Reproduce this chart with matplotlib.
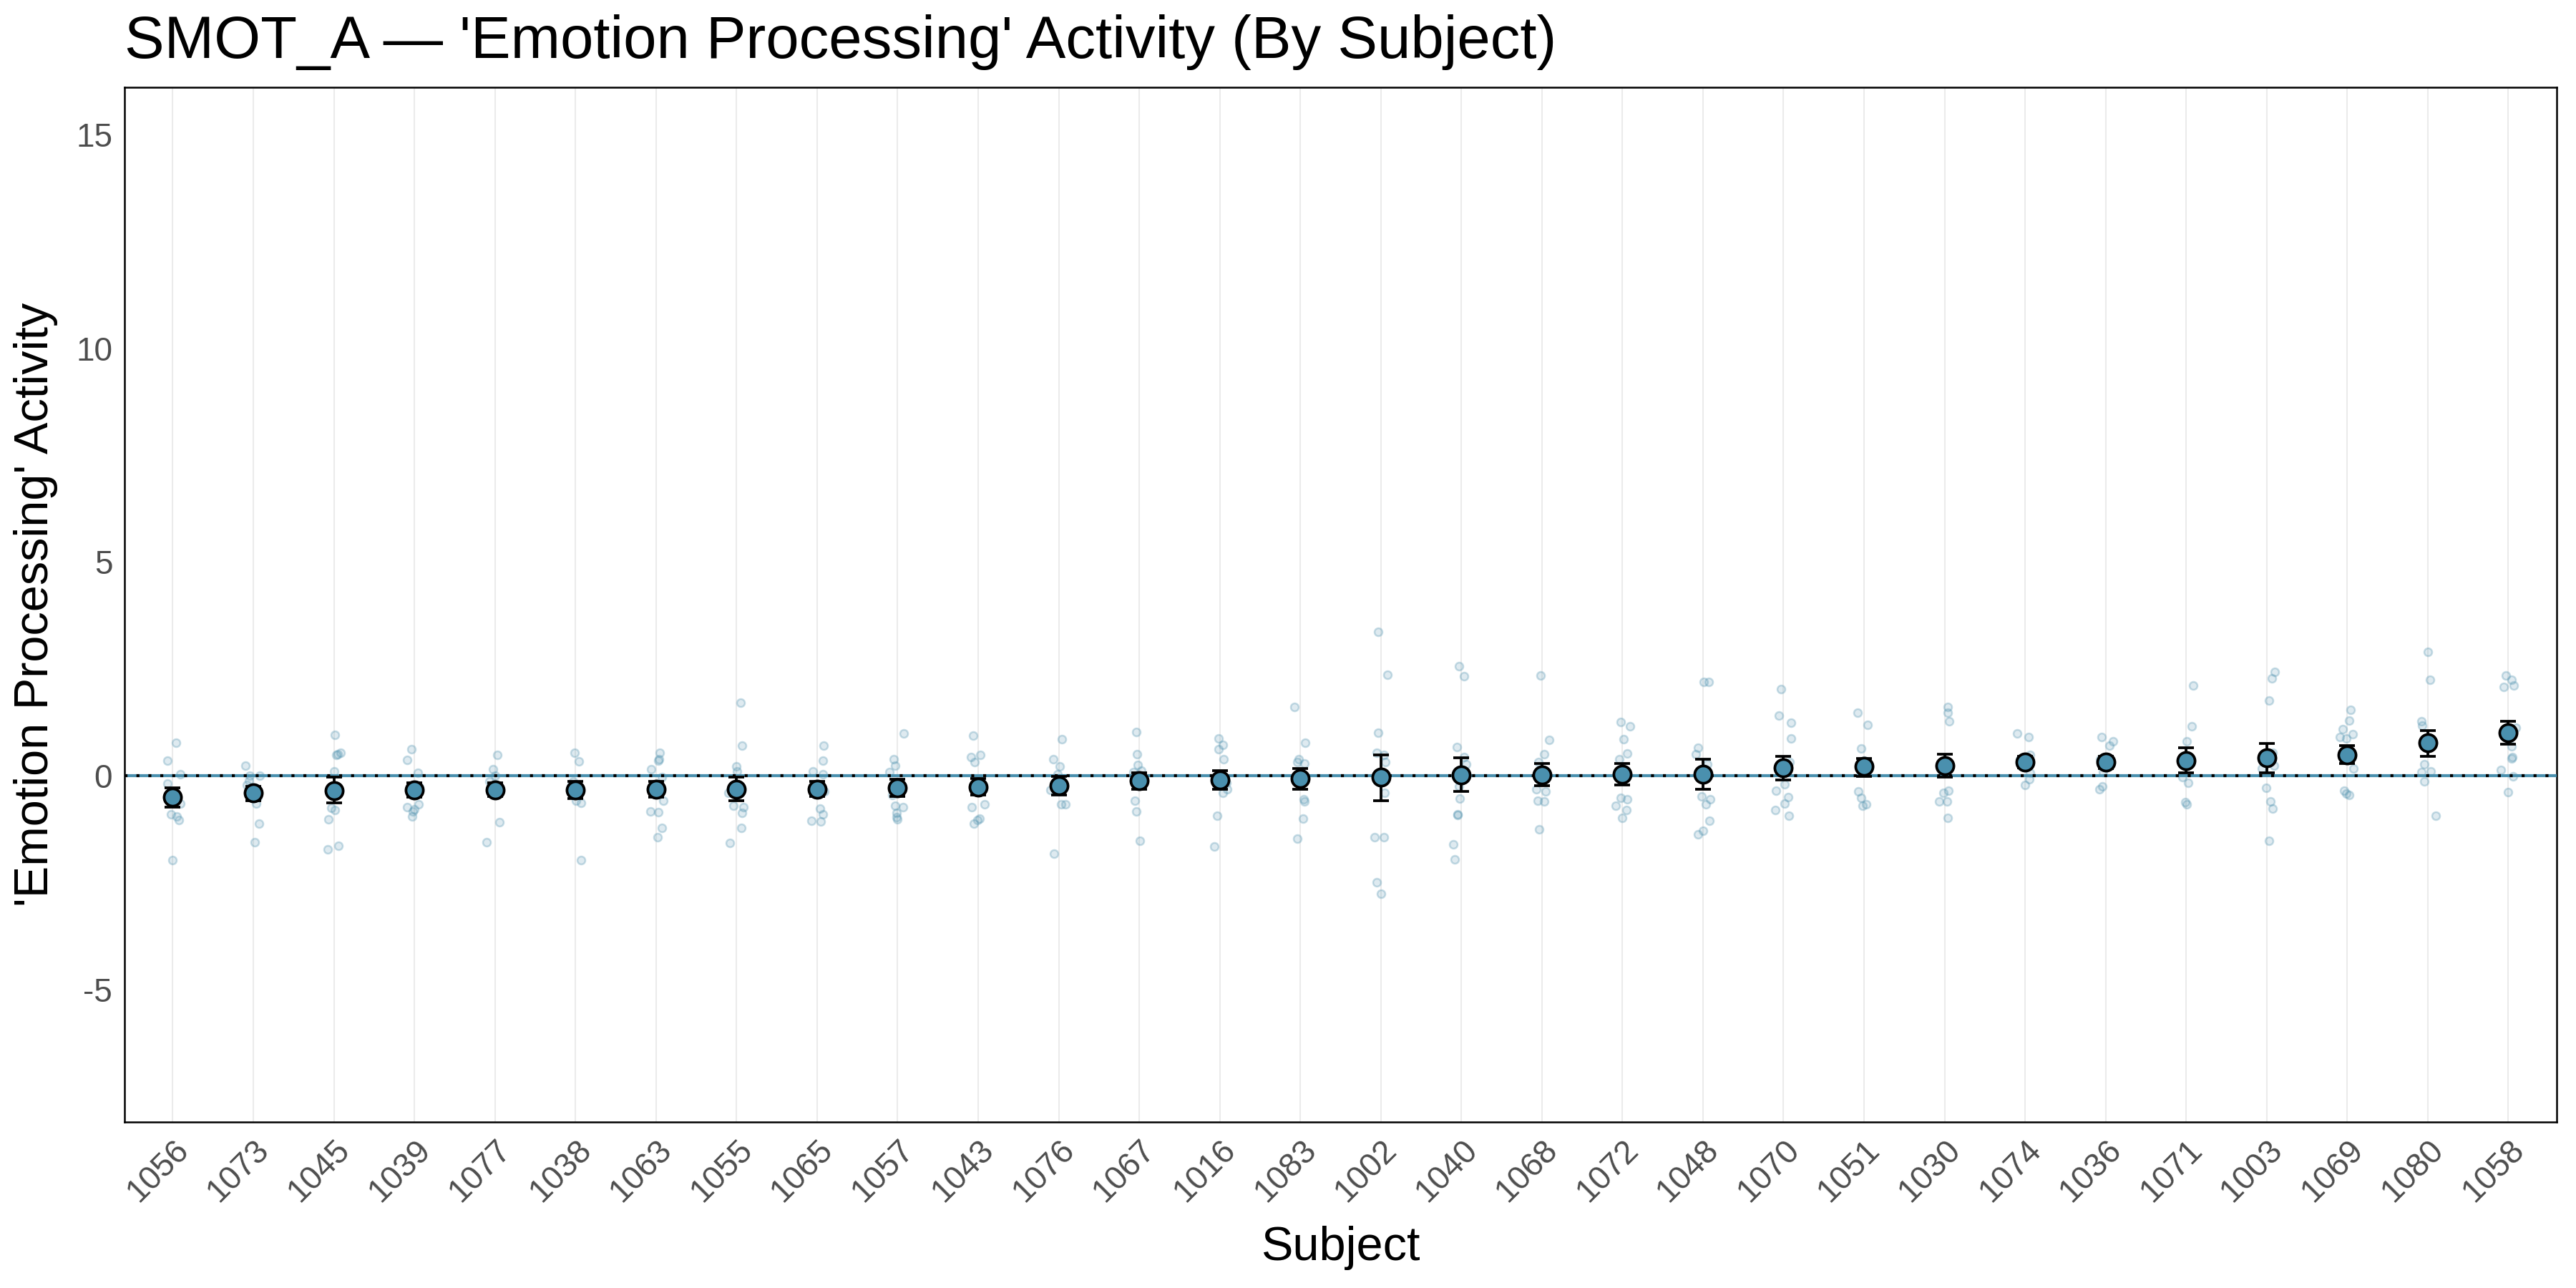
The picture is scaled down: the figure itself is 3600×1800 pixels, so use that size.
import numpy as np
import matplotlib
matplotlib.use('Agg')
import matplotlib.pyplot as plt

plt.rcParams['font.family'] = ['Liberation Sans', 'DejaVu Sans']
plt.rcParams['axes.unicode_minus'] = False

subjects = ['1056', '1073', '1045', '1039', '1077', '1038', '1063', '1055', '1065', '1057',
            '1043', '1076', '1067', '1016', '1083', '1002', '1040', '1068', '1072', '1048',
            '1070', '1051', '1030', '1074', '1036', '1071', '1003', '1069', '1080', '1058']

means = [-0.50, -0.41, -0.35, -0.34, -0.33, -0.34, -0.32, -0.31, -0.31, -0.28,
         -0.26, -0.24, -0.11, -0.10, -0.06, -0.04, 0.01, 0.02, 0.04, 0.04,
         0.18, 0.21, 0.24, 0.32, 0.32, 0.36, 0.42, 0.49, 0.77, 1.01]
ci_low = [-0.73, -0.58, -0.64, -0.50, -0.49, -0.53, -0.51, -0.58, -0.49, -0.48,
          -0.46, -0.46, -0.31, -0.31, -0.31, -0.58, -0.37, -0.24, -0.21, -0.31,
          -0.10, -0.02, -0.04, 0.18, 0.17, 0.07, 0.07, 0.28, 0.46, 0.73]
ci_high = [-0.29, -0.25, -0.03, -0.17, -0.17, -0.14, -0.14, -0.04, -0.13, -0.08,
           -0.07, -0.02, 0.07, 0.11, 0.17, 0.48, 0.42, 0.28, 0.29, 0.39,
           0.46, 0.41, 0.51, 0.45, 0.46, 0.65, 0.76, 0.70, 1.06, 1.28]

# individual observations (value, horizontal jitter) per subject
obs = [
    [0.77, 0.36, 0.04, -0.18, -0.65, -0.91, -0.95, -1.04, -1.97],
    [0.23, 0.00, 0.00, -0.22, -0.50, -0.66, -1.12, -1.56, -0.11],
    [0.95, 0.54, 0.48, 0.50, 0.10, -0.76, -0.80, -1.02, -1.73, -1.64],
    [0.62, 0.37, 0.07, -0.26, -0.67, -0.73, -0.78, -0.84, -0.95],
    [0.48, 0.15, 0.00, -0.14, -1.09, -1.56],
    [0.53, 0.34, -0.20, -0.59, -0.64, -1.98, -0.31, -0.14],
    [0.53, 0.39, 0.36, 0.15, -0.03, -0.59, -0.84, -0.86, -1.23, -1.44],
    [1.70, 0.71, 0.22, 0.10, -0.41, -0.71, -0.74, -0.87, -1.23, -1.57],
    [0.70, 0.36, 0.10, 0.04, -0.36, -0.77, -0.90, -1.05, -1.07],
    [0.99, 0.39, 0.24, 0.08, -0.45, -0.70, -0.74, -0.87, -0.97, -1.02],
    [0.94, 0.49, 0.43, 0.31, -0.67, -0.73, -1.01, -1.04, -1.12],
    [0.85, 0.38, 0.21, 0.03, -0.34, -0.67, -0.67, -1.82],
    [1.02, 0.51, 0.25, 0.11, 0.08, -0.58, -0.83, -1.53],
    [0.87, 0.72, 0.62, 0.39, -0.17, -0.31, -0.41, -0.93, -1.65],
    [1.61, 0.77, 0.39, 0.31, 0.28, -0.03, -0.56, -0.60, -1.00, -1.48],
    [3.37, 2.36, 1.01, 0.53, 0.48, 0.32, -0.41, -1.44, -1.44, -2.50, -2.77],
    [2.56, 2.32, 0.67, 0.43, 0.26, -0.25, -0.53, -0.91, -0.92, -1.61, -1.96],
    [2.34, 0.83, 0.51, 0.32, -0.36, -0.31, -0.58, -0.60, -1.26],
    [1.26, 1.16, 0.85, 0.52, 0.39, -0.52, -0.55, -0.71, -0.80, -0.99],
    [2.19, 2.19, 0.65, 0.50, 0.26, -0.48, -0.56, -0.67, -1.05, -1.29, -1.37],
    [2.03, 1.41, 1.24, 0.87, 0.31, -0.20, -0.35, -0.50, -0.65, -0.80, -0.93],
    [1.47, 1.19, 0.63, 0.36, 0.22, -0.37, -0.52, -0.67, -0.70],
    [1.61, 1.48, 1.27, 0.36, -0.35, -0.41, -0.60, -0.61, -0.99],
    [0.99, 0.90, 0.48, 0.39, 0.06, -0.08, -0.22],
    [0.91, 0.80, 0.70, 0.39, 0.25, 0.08, -0.25, -0.31],
    [2.11, 1.16, 0.80, -0.03, -0.17, -0.62, -0.67],
    [2.42, 2.28, 1.76, 0.53, 0.24, 0.17, -0.28, -0.60, -0.77, -1.52],
    [1.54, 1.29, 1.09, 0.97, 0.91, 0.87, 0.17, -0.35, -0.42, -0.45],
    [2.89, 2.25, 1.27, 1.18, 0.26, 0.08, 0.10, -0.14, -0.94],
    [2.35, 2.24, 2.11, 2.07, 1.12, 0.68, 0.43, 0.41, 0.14, -0.02, -0.39],
]
jitter = [
    [0.04, -0.07, 0.09, -0.07, 0.09, -0.02, 0.05, 0.08, 0.00],
    [-0.10, -0.04, 0.08, -0.08, 0.05, 0.04, 0.07, 0.02, -0.05],
    [0.01, 0.08, 0.03, 0.05, 0.00, -0.03, 0.01, -0.07, -0.08, 0.06],
    [-0.04, -0.09, 0.04, 0.06, 0.05, -0.09, 0.00, -0.02, -0.03],
    [0.03, -0.02, 0.00, -0.07, 0.06, -0.10],
    [-0.01, 0.04, -0.05, 0.01, 0.07, 0.07, 0.03, -0.03],
    [0.05, 0.04, 0.03, -0.06, 0.07, 0.09, -0.07, 0.03, 0.07, 0.02],
    [0.05, 0.07, 0.00, 0.01, -0.10, -0.04, 0.09, 0.07, 0.06, -0.08],
    [0.08, 0.07, -0.05, 0.07, 0.09, 0.04, 0.07, -0.07, 0.05],
    [0.08, -0.05, -0.03, -0.10, -0.07, -0.03, 0.07, -0.01, -0.01, 0.00],
    [-0.06, 0.03, -0.09, -0.04, 0.08, -0.08, 0.02, -0.01, -0.05],
    [0.04, -0.07, 0.01, -0.01, -0.10, 0.03, 0.08, -0.06],
    [-0.04, -0.03, -0.02, 0.03, -0.07, -0.05, -0.04, 0.01],
    [-0.01, 0.04, -0.01, 0.05, 0.08, 0.09, 0.04, -0.03, -0.07],
    [-0.07, 0.06, -0.02, -0.04, 0.05, -0.06, 0.04, 0.05, 0.03, -0.04],
    [-0.03, 0.08, -0.03, -0.05, 0.04, 0.06, 0.05, -0.08, 0.04, -0.05, 0.00],
    [-0.03, 0.03, -0.06, 0.03, 0.06, -0.03, -0.02, -0.05, -0.05, -0.10, -0.08],
    [-0.02, 0.09, 0.03, -0.04, 0.05, -0.07, -0.05, 0.03, -0.03],
    [-0.02, 0.09, 0.01, 0.06, -0.04, -0.02, 0.06, -0.08, 0.05, 0.00],
    [0.01, 0.07, -0.06, -0.09, 0.05, -0.02, 0.09, 0.04, 0.08, 0.00, -0.06],
    [-0.03, -0.06, 0.09, 0.09, 0.08, 0.01, -0.09, 0.06, 0.01, -0.10, 0.07],
    [-0.08, 0.04, -0.04, 0.00, 0.05, -0.07, -0.04, 0.03, -0.02],
    [0.04, 0.04, 0.06, 0.00, 0.05, -0.01, -0.07, 0.03, 0.04],
    [-0.10, 0.04, 0.06, -0.06, 0.06, 0.05, 0.00],
    [-0.05, 0.09, 0.05, -0.07, 0.00, -0.03, -0.04, -0.08],
    [0.09, 0.07, 0.01, -0.05, 0.02, -0.01, 0.01],
    [0.10, 0.06, 0.03, 0.07, 0.09, -0.06, -0.01, 0.05, 0.07, 0.03],
    [0.04, 0.02, -0.06, 0.07, -0.09, -0.01, 0.08, -0.04, -0.01, 0.02],
    [0.00, 0.03, -0.08, -0.07, -0.04, -0.08, 0.04, -0.04, 0.10],
    [-0.03, 0.04, 0.07, -0.06, 0.09, 0.04, 0.05, 0.04, -0.09, 0.06, 0.00],
]

blue = '#4A90AE'

fig = plt.figure(figsize=(12, 6), dpi=300)
ax = fig.add_axes([0.0483, 0.129, 0.9442, 0.803])

x = np.arange(len(subjects))

# raw points
for i in range(len(subjects)):
    xs = i + np.array(jitter[i])
    ax.scatter(xs, obs[i], s=7, facecolor=(0.29, 0.56, 0.68, 0.18),
               edgecolor=(0.29, 0.56, 0.68, 0.30), linewidth=0.6, zorder=2)

# zero reference
ax.axhline(0, color=blue, lw=1.0, zorder=3)
ax.axhline(0, color='black', lw=1.0, linestyle=(0, (1, 3)), zorder=3)

yerr = [np.array(means) - np.array(ci_low), np.array(ci_high) - np.array(means)]
ax.errorbar(x, means, yerr=yerr, fmt='none', ecolor='black', elinewidth=0.9,
            capsize=2.6, capthick=0.9, zorder=4)
ax.plot(x, means, 'o', ms=5.8, mfc=blue, mec='black', mew=0.9, zorder=5)

ax.set_xlim(-0.6, len(subjects) - 0.4)
ax.set_ylim(-8.1, 16.1)
ax.set_yticks([-5, 0, 5, 10, 15])
ax.set_xticks(x)
ax.set_xticklabels(subjects, rotation=45, ha='right', rotation_mode='anchor')
ax.tick_params(length=0, labelsize=11, labelcolor='#4D4D4D', pad=4)
ax.grid(axis='x', color='#EBEBEB', lw=0.5)
ax.set_axisbelow(True)
for sp in ax.spines.values():
    sp.set_color('black')
    sp.set_linewidth(0.6)

ax.set_xlabel('Subject', fontsize=16, labelpad=6)
ax.set_ylabel("'Emotion Processing' Activity", fontsize=16, labelpad=6)
ax.set_title("SMOT_A \u2014 'Emotion Processing' Activity (By Subject)", loc='left',
             fontsize=20, pad=10)

fig.savefig('out.png', dpi=300, facecolor='white')
